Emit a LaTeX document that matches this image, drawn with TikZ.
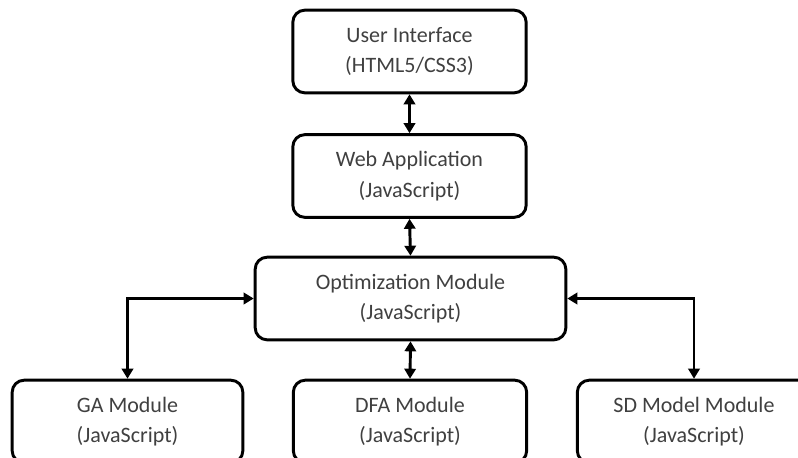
\documentclass[tikz,border=0pt]{standalone}
\usepackage{fontspec}
\setmainfont{Carlito}
\usetikzlibrary{arrows.meta}
\begin{document}
\begin{tikzpicture}[x=0.75pt,y=-0.75pt,
  box/.style={draw=black,line width=2.2pt,rounded corners=9pt,fill=white,
    align=center,inner sep=0pt,text=black!75,
    font=\fontsize{16.5}{23}\selectfont,minimum height=62pt},
  link/.style={line width=2.2pt,{Triangle[length=7.5pt,width=8.5pt]}-{Triangle[length=7.5pt,width=8.5pt]}}]
\useasboundingbox (0,0) rectangle (798,457);
\clip (0,0) rectangle (798,457);
\fill[white] (0,0) rectangle (798,457);
\node[box,minimum width=175pt] (ui) at (409.5,51.5) {User Interface\\(HTML5/CSS3)};
\node[box,minimum width=175pt] (web) at (409.5,176) {Web Application\\(JavaScript)};
\node[box,minimum width=233pt] (opt) at (410.5,298.5) {Optimization Module\\(JavaScript)};
\node[box,minimum width=173pt] (ga) at (127.5,421.5) {GA Module\\(JavaScript)};
\node[box,minimum width=175pt] (dfa) at (410,421.5) {DFA Module\\(JavaScript)};
\node[box,minimum width=175pt] (sd) at (694,421.5) {SD Model Module\\(JavaScript)};
\draw[link] (ui.south) -- (web.north);
\draw[link] (web.south) -- (opt.north);
\draw[link] (opt.south) -- (dfa.north);
\draw[link] (opt.west) -| (ga.north);
\draw[link] (opt.east) -| (sd.north);
\end{tikzpicture}
\end{document}
